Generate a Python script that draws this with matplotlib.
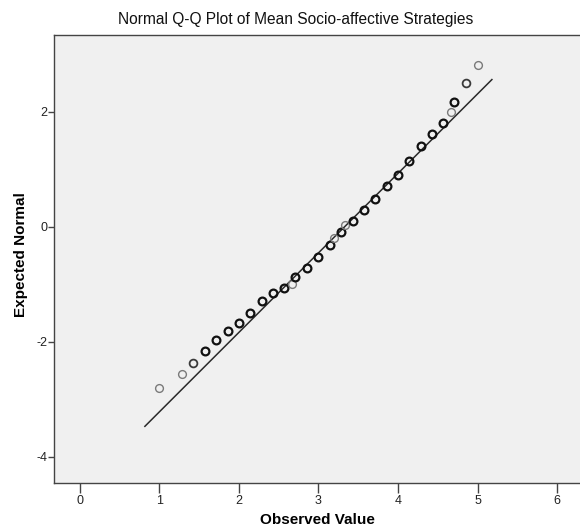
import numpy as np
import matplotlib.pyplot as plt

# observed means (7-item scale) and their expected normal scores
observed = [1.00, 1.29, 1.43, 1.57, 1.71, 1.86, 2.00, 2.14, 2.29, 2.43, 2.57,
            2.67, 2.71, 2.86, 3.00, 3.14, 3.20, 3.29, 3.33, 3.43, 3.57, 3.71,
            3.86, 4.00, 4.14, 4.29, 4.43, 4.57, 4.67, 4.71, 4.86, 5.00]
expected = [-2.80, -2.57, -2.37, -2.16, -1.97, -1.81, -1.67, -1.50, -1.29, -1.16, -1.07,
            -1.00, -0.88, -0.71, -0.53, -0.31, -0.19, -0.10, 0.03, 0.10, 0.29, 0.49,
            0.70, 0.90, 1.14, 1.40, 1.61, 1.81, 2.00, 2.17, 2.50, 2.81]
# number of cases sharing each value (ties plot on top of each other)
cases = [1, 1, 2, 3, 3, 3, 3, 3, 3, 3, 3,
         1, 3, 3, 3, 3, 1, 3, 1, 3, 3, 3,
         3, 3, 3, 3, 3, 3, 1, 3, 2, 1]

# reference line: normal with the sample mean and sd
mean_val = 3.33
sd_val = 0.723
line_x = [0.82, 5.18]

plt.rcParams['font.family'] = ['Liberation Sans', 'DejaVu Sans']
plt.rcParams['axes.unicode_minus'] = False

fig = plt.figure(figsize=(5.8, 5.31), dpi=100)
ax = fig.add_axes([0.0931, 0.0904, 0.9069, 0.8437])
ax.set_facecolor('#f0f0f0')

lx = np.array(line_x)
ax.plot(lx, (lx - mean_val) / sd_val, color='#2a2a2a', lw=1.1)

shade = {1: '#7a7a7a', 2: '#3a3a3a', 3: '#111111'}
widths = {1: 1.0, 2: 1.3, 3: 1.6}
for x, y, n in zip(observed, expected, cases):
    ax.plot(x, y, 'o', ms=5.6, mfc='none', mec=shade[n], mew=widths[n])

ax.set_xlim(-0.322, 6.287)
ax.set_ylim(-4.457, 3.334)
ax.set_xticks(range(0, 7))
ax.set_yticks([-4, -2, 0, 2])

for s in ['left', 'bottom', 'top']:
    ax.spines[s].set_color('#444444')
    ax.spines[s].set_linewidth(1.0)
ax.spines['right'].set_visible(False)
ax.tick_params(axis='x', direction='out', length=7, width=1, color='#444444',
               labelsize=9, labelcolor='#222222', pad=2)
ax.tick_params(axis='y', direction='out', length=4, width=1, color='#444444',
               labelsize=9, labelcolor='#222222', pad=1)

fig.text(0.51, 0.964, 'Normal Q-Q Plot of Mean Socio-affective Strategies',
         ha='center', va='center', fontsize=11.2, color='#111111')
fig.text(0.548, 0.02, 'Observed Value', ha='center', va='center',
         fontsize=11, fontweight='bold')
fig.text(0.037, 0.52, 'Expected Normal', ha='center', va='center',
         rotation=90, fontsize=11, fontweight='bold')

fig.savefig('out.png', dpi=100)
